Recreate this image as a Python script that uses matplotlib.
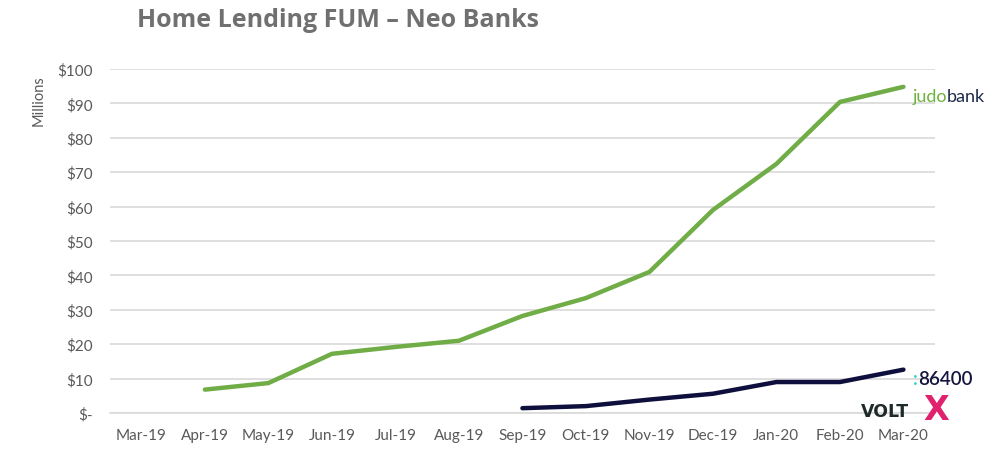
import matplotlib.pyplot as plt
import numpy as np

months = ['Mar-19', 'Apr-19', 'May-19', 'Jun-19', 'Jul-19', 'Aug-19', 'Sep-19',
          'Oct-19', 'Nov-19', 'Dec-19', 'Jan-20', 'Feb-20', 'Mar-20']
judo = [np.nan, 6.8, 8.7, 17.2, 19.2, 21.0, 28.2, 33.4, 41.0, 59.0, 72.4, 90.4, 94.8]
neo = [np.nan] * 6 + [1.4, 2.0, 3.9, 5.6, 9.0, 9.0, 12.6]
yticks = [0, 10, 20, 30, 40, 50, 60, 70, 80, 90, 100]
ylabels = ['$-'] + [f'${v}' for v in yticks[1:]]

plt.rcParams['font.family'] = 'Lato'
fig = plt.figure(figsize=(9.97, 4.6), dpi=100)
ax = fig.add_axes([0.110, 0.1, 0.828, 0.748])

x = np.arange(len(months))
ax.plot(x, judo, color='#70AD47', lw=3.2, solid_capstyle='round')
ax.plot(x, neo, color='#0F0F3D', lw=3.2, solid_capstyle='round')

ax.set_xlim(-0.5, len(months) - 0.5)
ax.set_ylim(0, 100)
ax.set_yticks(yticks)
ax.set_yticklabels(ylabels)
ax.set_xticks(x)
ax.set_xticklabels(months)
ax.grid(axis='y', color='#D9D9D9', lw=1.2)
ax.set_axisbelow(True)
for s in ['top', 'right', 'left']:
    ax.spines[s].set_visible(False)
ax.spines['bottom'].set_color('#D9D9D9')
ax.spines['bottom'].set_linewidth(1.2)
ax.tick_params(length=0, labelsize=11, labelcolor='#595959')
ax.tick_params(axis='x', pad=11)
ax.tick_params(axis='y', pad=12)
ax.set_ylabel('Millions', fontsize=10.5, color='#595959')
ax.yaxis.set_label_coords(-0.078, 0.91)

fig.text(0.137, 0.955, 'Home Lending FUM \u2013 Neo Banks', fontsize=18,
         fontweight='bold', color='#707070', va='center', family='Open Sans')

# bank names at the line ends
t1 = fig.text(0.915, 0.79, 'judo', fontsize=13, color='#6DB33F', va='center')
ax.annotate('bank', xy=(1, 0.5), xycoords=t1, va='center', ha='left',
            fontsize=13, color='#1E2A4A', annotation_clip=False)
t2 = fig.text(0.916, 0.176, ':', fontsize=13, color='#2ED9C3', va='center',
              fontweight='bold')
ax.annotate('86400', xy=(1, 0.5), xycoords=t2, va='center', ha='left',
            fontsize=13.5, color='#15153F', fontweight='semibold', annotation_clip=False)
fig.text(0.864, 0.104, 'VOLT', fontsize=12.5, color='#1F2A2A', va='center',
         fontweight='black', family='DejaVu Sans')
fig.text(0.939, 0.108, 'X', fontsize=24, color='#E0226E', va='center', ha='center',
         fontweight='black', family='DejaVu Sans')

plt.savefig('out.png', dpi=100)
